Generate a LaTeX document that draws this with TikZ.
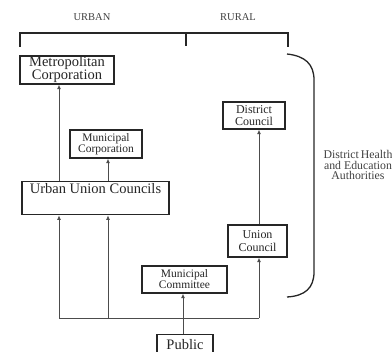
\documentclass[tikz,border=0pt]{standalone}
\usepackage{fontspec}
\setmainfont{Liberation Serif}
\usetikzlibrary{arrows.meta}
\begin{document}
\begin{tikzpicture}[x=1pt,y=-1pt,
  box/.style={draw=black!85, line width=1.4pt, inner sep=0pt, align=center, text=black!85},
  conn/.style={draw=black!70, line width=0.8pt, -{Latex[length=4.5pt,width=4pt]}},
  plain/.style={draw=black!70, line width=0.8pt},
  brk/.style={draw=black!85, line width=1.3pt},
  lbl/.style={text=black!75, inner sep=0pt, align=center}
]
\useasboundingbox (0,0) rectangle (392,352);
% header
\node[lbl, font=\fontsize{10.5}{11}\selectfont] (urban) at (92,17) {URBAN};
\node[lbl, font=\fontsize{10.5}{11}\selectfont] (rural) at (238,17) {RURAL};
\draw[brk] (20,47) -- (20,33) -- (288,33) -- (288,47);
\draw[brk] (186,33) -- (186,46);
% boxes
\node[box, minimum width=94pt, minimum height=28pt, font=\fontsize{14.5}{13}\selectfont] (metro) at (67,70) {Metropolitan\\Corporation};
\node[box, minimum width=72pt, minimum height=28pt, font=\fontsize{11.5}{11}\selectfont] (mcorp) at (106,144) {Municipal\\Corporation};
\node[box, minimum width=147pt, anchor=north, inner ysep=3pt, text height=9pt, text depth=18pt, font=\fontsize{14.5}{15}\selectfont] (uuc) at (95.5,181) {Urban Union Councils};
\node[box, minimum width=62pt, minimum height=27pt, font=\fontsize{12}{12}\selectfont] (dc) at (254,115.5) {District\\Council};
\node[box, minimum width=59pt, minimum height=32pt, font=\fontsize{12}{13}\selectfont] (uc) at (257.5,241) {Union\\Council};
\node[box, minimum width=85pt, minimum height=27pt, font=\fontsize{11.5}{11}\selectfont] (mc) at (184.5,279.5) {Municipal\\Committee};
\node[box, minimum width=56pt, minimum height=20pt, anchor=north, font=\fontsize{14.5}{15}\selectfont] (pub) at (185,334) {Public};
% side label
\node[lbl, font=\fontsize{11.8}{10.5}\selectfont] (dhea) at (358,165) {District\,Health\\and Education\\Authorities};
% right bracket
\draw[brk] (287,54) .. controls (305,56) and (314,64) .. (314,80) -- (314,272) .. controls (314,288) and (305,296) .. (287,297);
% junctions
\coordinate (j1) at (59,318);
\coordinate (j2) at (108,318);
\coordinate (j3) at (259,318);
% connectors
\draw[plain] (j1) -- (j3);
\draw[conn] (j1) -- (j1 |- uuc.south);
\draw[conn] (j2) -- (j2 |- uuc.south);
\draw[conn] (j1 |- uuc.north) -- (j1 |- metro.south);
\draw[conn] (j2 |- uuc.north) -- (j2 |- mcorp.south);
\draw[conn] (j3) -- (j3 |- uc.south);
\draw[conn] (j3 |- uc.north) -- (j3 |- dc.south);
\draw[conn] ([xshift=-2pt]pub.north) -- ([xshift=-2pt]pub.north |- mc.south);
\end{tikzpicture}
\end{document}
